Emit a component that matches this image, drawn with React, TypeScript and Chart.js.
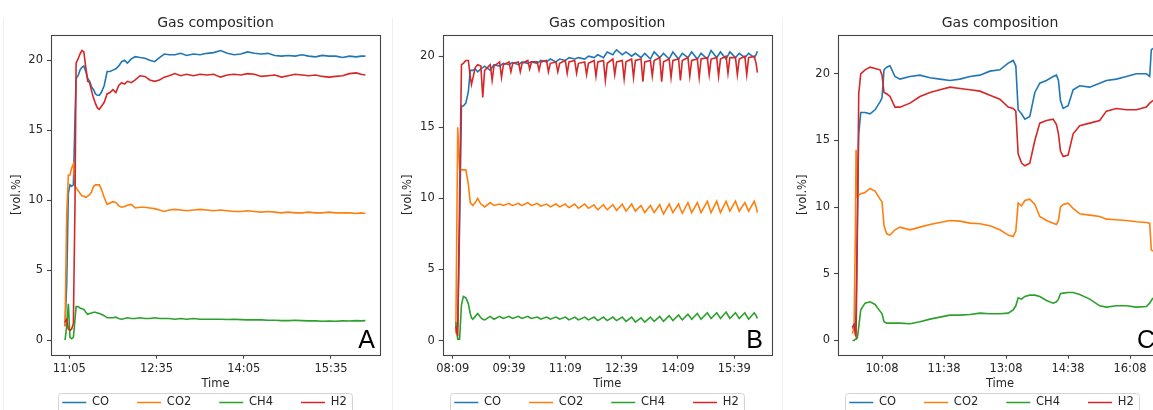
import React, { useEffect, useRef } from 'react';
import { Chart, registerables } from 'chart.js';

Chart.register(...registerables);

// ---------------- data ----------------
const SERIES = ['CO', 'CO2', 'CH4', 'H2'];
const COLORS = ['#1f77b4', '#ff7f0e', '#2ca02c', '#d62728'];
const Y_TICKS = [0, 5, 10, 15, 20];

// Panel A (time in minutes after midnight)
const A_TICK_LABELS = ['11:05', '12:35', '14:05', '15:35'];
const A_TIMES = [660.6, 662.3, 664, 665.7, 667.4, 669.2, 670.9, 672, 674, 676, 678, 680, 682, 684, 686, 688, 690, 692, 694, 696, 698, 701, 704, 707, 710, 713, 716, 719, 722, 725, 729, 733, 738, 743, 748, 753, 758, 763, 768, 774, 780, 786, 793, 800, 807, 814, 821, 828, 835, 842, 849, 856, 863, 870, 877, 884, 891, 898, 905, 912, 919, 926, 933, 940, 947, 954, 961, 966, 970.5];
const A_CO = [1.0, 4.0, 10.5, 11.1, 11.0, 11.1, 16.0, 18.7, 18.9, 19.3, 19.5, 19.6, 19.2, 18.7, 18.5, 18.1, 17.9, 17.6, 17.5, 17.5, 17.7, 18.2, 19.2, 19.2, 19.3, 19.4, 19.6, 19.9, 20.0, 19.8, 20.1, 20.26, 20.2, 20.15, 20.0, 19.9, 20.2, 20.45, 20.4, 20.4, 20.5, 20.35, 20.45, 20.4, 20.5, 20.55, 20.7, 20.5, 20.4, 20.45, 20.6, 20.5, 20.45, 20.5, 20.35, 20.3, 20.35, 20.3, 20.4, 20.3, 20.25, 20.35, 20.3, 20.3, 20.2, 20.3, 20.25, 20.3, 20.3];
const A_CO2 = [1.0, 9.0, 11.8, 11.8, 12.3, 12.6, 11.0, 10.9, 10.7, 10.5, 10.3, 10.3, 10.2, 10.3, 10.4, 10.6, 11.0, 11.1, 11.1, 11.1, 10.8, 10.2, 9.7, 9.8, 9.9, 9.85, 9.6, 9.5, 9.55, 9.65, 9.7, 9.45, 9.5, 9.5, 9.45, 9.4, 9.3, 9.2, 9.3, 9.35, 9.3, 9.25, 9.3, 9.35, 9.3, 9.25, 9.3, 9.25, 9.2, 9.2, 9.25, 9.2, 9.15, 9.2, 9.15, 9.1, 9.15, 9.1, 9.1, 9.15, 9.1, 9.1, 9.15, 9.1, 9.1, 9.1, 9.05, 9.1, 9.05];
const A_CH4 = [0.0, 1.0, 2.6, 0.2, 0.1, 0.2, 1.5, 2.4, 2.4, 2.3, 2.25, 2.2, 2.0, 1.85, 1.9, 1.95, 2.0, 2.0, 1.95, 1.9, 1.85, 1.75, 1.6, 1.6, 1.6, 1.65, 1.55, 1.5, 1.55, 1.6, 1.55, 1.55, 1.6, 1.55, 1.55, 1.6, 1.55, 1.55, 1.55, 1.5, 1.55, 1.5, 1.55, 1.5, 1.5, 1.5, 1.5, 1.48, 1.5, 1.47, 1.45, 1.45, 1.45, 1.42, 1.42, 1.4, 1.4, 1.42, 1.4, 1.38, 1.38, 1.35, 1.36, 1.35, 1.38, 1.37, 1.4, 1.38, 1.4];
const A_H2 = [1.3, 1.5, 0.8, 0.7, 0.8, 1.2, 10.0, 19.8, 20.1, 20.45, 20.7, 20.6, 19.5, 18.5, 18.4, 17.8, 17.3, 16.9, 16.6, 16.5, 16.7, 17.0, 17.6, 17.7, 17.9, 17.7, 18.2, 18.4, 18.3, 18.5, 18.4, 18.6, 18.9, 18.85, 18.6, 18.5, 18.6, 18.8, 18.9, 19.05, 18.9, 19.0, 18.9, 19.0, 18.95, 19.0, 18.8, 18.95, 19.0, 18.95, 19.05, 19.0, 18.85, 18.9, 18.95, 18.8, 18.9, 19.0, 18.95, 18.9, 18.95, 18.85, 18.8, 18.85, 18.9, 19.05, 19.1, 19.0, 18.95];

// Panel B
const B_TICK_LABELS = ['08:09', '09:39', '11:09', '12:39', '14:09', '15:39'];
const B_TIMES = [
  494, 497, 500, 503, 506, 510, 514, 517, 519, 521,
  525, 529, 534, 537, 540,
  549, 552, 555, 564, 567, 570, 579, 582, 585, 594, 597, 600, 609, 612, 615,
  624, 627, 630, 639, 642, 645, 654, 657, 660, 669, 672, 675, 684, 687, 690,
  700, 703, 706, 715, 718, 721, 730, 733, 736, 745, 748, 751, 760, 763, 766,
  775, 778, 781, 790, 793, 796, 805, 808, 811, 820, 823, 826, 835, 838, 841,
  850, 853, 856, 865, 868, 871, 880, 883, 886, 896, 899, 902, 911, 914, 917,
  926, 929, 932, 941, 944, 947, 956, 959, 962, 971, 974, 976,
];
const B_CO = [
  0.8, 1.0, 8.0, 16.5, 16.5, 16.7, 17.5, 19.0, 19.0, 19.0,
  19.1, 18.9, 19.1, 19.2, 19.3,
  19.0, 19.2, 19.4, 19.3, 19.4, 19.5, 19.4, 19.5, 19.55, 19.4, 19.5, 19.6, 19.5, 19.55, 19.6,
  19.5, 19.6, 19.7, 19.6, 19.7, 19.8, 19.6, 19.7, 19.8, 19.7, 19.8, 19.9, 19.8, 19.85, 19.9,
  19.8, 19.9, 20.0, 19.9, 20.0, 20.1, 19.9, 20.1, 20.3, 20.1, 20.3, 20.45, 20.1, 20.2, 20.3,
  20.0, 20.1, 20.2, 19.9, 20.05, 20.2, 19.8, 20.05, 20.3, 19.9, 20.05, 20.2, 19.8, 20.05, 20.3,
  19.8, 20.0, 20.2, 19.9, 20.1, 20.3, 19.8, 20.0, 20.2, 19.8, 20.1, 20.4, 19.9, 20.1, 20.3,
  19.8, 20.05, 20.3, 19.9, 20.05, 20.2, 19.9, 20.05, 20.2, 19.9, 20.1, 20.35,
];
const B_CO2 = [
  0.5, 15.0, 12.1, 12.0, 12.0, 12.0, 11.0, 9.7, 9.6, 9.5,
  9.7, 10.0, 9.6, 9.5, 9.4,
  9.7, 9.6, 9.5, 9.6, 9.55, 9.5, 9.65, 9.55, 9.5, 9.65, 9.55, 9.5, 9.7, 9.6, 9.5,
  9.65, 9.55, 9.45, 9.6, 9.5, 9.4, 9.6, 9.5, 9.4, 9.6, 9.45, 9.35, 9.6, 9.45, 9.3,
  9.6, 9.45, 9.3, 9.55, 9.35, 9.2, 9.55, 9.35, 9.2, 9.55, 9.35, 9.15, 9.6, 9.35, 9.1,
  9.6, 9.35, 9.1, 9.5, 9.25, 9.0, 9.5, 9.25, 9.0, 9.55, 9.2, 8.9, 9.6, 9.3, 9.0,
  9.6, 9.25, 8.95, 9.7, 9.35, 9.0, 9.7, 9.35, 9.0, 9.8, 9.4, 9.0, 9.8, 9.4, 9.0,
  9.8, 9.45, 9.1, 9.8, 9.45, 9.1, 9.7, 9.4, 9.1, 9.8, 9.4, 9.0,
];
const B_CH4 = [
  1.3, 0.1, 0.1, 2.5, 3.1, 3.0, 2.6, 1.9, 1.6, 1.5,
  1.7, 1.9, 1.6, 1.5, 1.45,
  1.7, 1.6, 1.5, 1.7, 1.62, 1.55, 1.7, 1.62, 1.55, 1.7, 1.62, 1.55, 1.7, 1.62, 1.55,
  1.65, 1.58, 1.5, 1.65, 1.58, 1.5, 1.65, 1.58, 1.5, 1.65, 1.55, 1.45, 1.65, 1.55, 1.45,
  1.65, 1.55, 1.45, 1.65, 1.52, 1.4, 1.65, 1.52, 1.4, 1.65, 1.52, 1.4, 1.65, 1.5, 1.35,
  1.65, 1.48, 1.3, 1.6, 1.45, 1.3, 1.65, 1.5, 1.35, 1.7, 1.52, 1.35, 1.75, 1.58, 1.4,
  1.8, 1.62, 1.45, 1.85, 1.68, 1.5, 1.9, 1.7, 1.5, 1.95, 1.75, 1.55, 1.95, 1.75, 1.55,
  2.0, 1.78, 1.55, 1.95, 1.75, 1.55, 1.95, 1.72, 1.5, 1.95, 1.75, 1.55,
];
const B_H2 = [
  1.0, 0.3, 10.0, 19.4, 19.5, 19.7, 19.7, 18.6, 18.0, 18.4,
  19.2, 19.4, 19.3, 17.1, 19.0,
  19.4, 18.3, 19.3, 19.6, 18.5, 19.4, 19.6, 18.9, 19.5, 19.6, 18.9, 19.5, 19.7, 19.1, 19.6,
  19.6, 19.0, 19.6, 19.7, 18.9, 19.5, 19.6, 18.9, 19.5, 19.7, 18.8, 19.6, 19.7, 18.8, 19.5,
  19.6, 18.7, 19.5, 19.7, 18.6, 19.6, 19.7, 18.3, 19.5, 19.8, 18.7, 19.6, 19.7, 18.4, 19.6,
  19.8, 18.5, 19.7, 19.8, 18.2, 19.6, 19.7, 18.6, 19.7, 19.9, 18.2, 19.6, 19.8, 18.5, 19.7,
  19.8, 18.3, 19.7, 19.9, 18.6, 19.7, 19.8, 18.5, 19.8, 19.9, 18.7, 19.8, 19.9, 18.6, 19.8,
  20.0, 18.8, 19.9, 19.9, 18.7, 19.8, 20.0, 18.7, 19.9, 20.0, 19.5, 18.85,
];

// Panel C
const C_TICK_LABELS = ['10:08', '11:38', '13:08', '14:38', '16:08'];
const C_TIMES = [565.0, 567.4, 569.3, 570.3, 572.2, 574.2, 577.1, 583.4, 590.6, 597.9, 605.1, 608.0, 610.9, 614.8, 619.6, 626.8, 634.1, 648.6, 663.1, 677.6, 692.1, 706.6, 721.1, 735.6, 750.1, 764.6, 779.1, 791.1, 798.4, 802.2, 805.6, 810.5, 815.3, 822.5, 829.8, 837.0, 846.7, 856.4, 861.2, 864.1, 867.0, 870.9, 878.1, 885.4, 895.0, 909.5, 924.0, 933.7, 948.2, 962.7, 977.2, 991.7, 996.5, 998.9, 1001.3];
const C_CO = [1.0, 0.8, 1.0, 2.0, 9.0, 15.5, 17.1, 17.1, 17.0, 17.3, 17.9, 18.2, 20.3, 20.5, 20.6, 19.8, 19.6, 19.8, 19.9, 19.7, 19.6, 19.5, 19.6, 19.8, 19.9, 20.2, 20.3, 20.8, 21.0, 20.6, 17.3, 17.0, 16.6, 16.8, 18.6, 19.3, 19.5, 19.8, 19.9, 19.5, 18.0, 17.4, 17.6, 18.8, 19.1, 19.0, 19.3, 19.5, 19.6, 19.8, 20.0, 20.0, 19.8, 21.8, 21.9];
const C_CO2 = [0.5, 1.0, 8.0, 14.3, 10.8, 10.9, 11.0, 11.1, 11.4, 11.2, 10.6, 10.4, 8.6, 8.0, 7.9, 8.3, 8.5, 8.3, 8.5, 8.7, 8.85, 9.0, 8.95, 8.8, 8.75, 8.6, 8.3, 7.9, 7.8, 8.2, 10.3, 10.1, 10.5, 10.6, 10.2, 9.3, 9.0, 8.8, 8.7, 9.0, 10.0, 10.2, 10.3, 9.9, 9.5, 9.4, 9.3, 9.1, 9.05, 9.0, 8.9, 8.85, 8.8, 6.8, 6.7];
const C_CH4 = [0.0, 0.0, 0.1, 0.1, 0.2, 1.0, 2.3, 2.8, 2.9, 2.7, 2.2, 2.0, 1.4, 1.3, 1.3, 1.3, 1.3, 1.25, 1.4, 1.6, 1.75, 1.9, 1.9, 1.95, 2.05, 2.0, 2.0, 2.05, 2.3, 2.6, 3.2, 3.1, 3.3, 3.4, 3.4, 3.3, 3.0, 2.8, 2.9, 3.1, 3.5, 3.55, 3.6, 3.6, 3.45, 3.1, 2.6, 2.5, 2.6, 2.6, 2.5, 2.55, 2.8, 3.0, 3.2];
const C_H2 = [1.0, 1.2, 0.4, 0.3, 8.0, 18.5, 20.0, 20.3, 20.5, 20.4, 20.3, 19.9, 18.6, 18.5, 18.3, 17.5, 17.5, 17.8, 18.3, 18.6, 18.8, 19.0, 18.9, 18.8, 18.7, 18.4, 18.1, 17.5, 17.4, 17.2, 14.0, 13.3, 13.1, 13.3, 15.0, 16.3, 16.5, 16.6, 16.2, 15.5, 14.2, 13.8, 13.9, 15.5, 16.1, 16.3, 16.5, 17.2, 17.4, 17.3, 17.3, 17.5, 17.8, 17.9, 18.0];

// ---------------- styling / layout ----------------
const FONT = '"DejaVu Sans", sans-serif';
const TEXT = '#262626';
const SPINE = '#444444';
const CANVAS_H = 443;
const X_AXIS_H = 38.9;
const LEGEND_TOP = 368.75;
const LEGEND_PAD = 28;

const toMin = (s: string) => {
  const [h, m] = s.split(':').map(Number);
  return h * 60 + m;
};

type Lay = {
  left: number; width: number; yAxisW: number; padRight: number;
  xMin: number; xMax: number; yMin: number; yMax: number;
  yTitlePad: number; legendCenter: number; letter: string; letterRight: number;
};

const PANELS = [
  {
    times: A_TIMES, series: [A_CO, A_CO2, A_CH4, A_H2], ticks: A_TICK_LABELS,
    lay: { left: 0, width: 390, yAxisW: 51, padRight: 10, xMin: 646.1, xMax: 985.6, yMin: -1.03, yMax: 21.81, yTitlePad: 10.1, legendCenter: 204.5, letter: 'A', letterRight: 375 } as Lay,
  },
  {
    times: B_TIMES, series: [B_CO, B_CO2, B_CH4, B_H2], ticks: B_TICK_LABELS,
    lay: { left: 390, width: 390, yAxisW: 52.7, padRight: 8.3, xMin: 473.0, xMax: 998.9, yMin: -0.99, yMax: 21.49, yTitlePad: 11.1, legendCenter: 206.5, letter: 'B', letterRight: 373 } as Lay,
  },
  {
    times: C_TIMES, series: [C_CO, C_CO2, C_CH4, C_H2], ticks: C_TICK_LABELS,
    lay: { left: 780, width: 390, yAxisW: 58, padRight: 8, xMin: 544.1, xMax: 1014.4, yMin: -1.06, yMax: 22.91, yTitlePad: 16.1, legendCenter: 211.5, letter: 'C', letterRight: 375 } as Lay,
  },
];

function makeConfig(p: any): any {
  const lay: Lay = p.lay;
  const tickFont = { family: FONT, size: 11.5 };
  const decor = {
    id: 'decor',
    afterLayout(chart: any) {
      const lg = chart.legend;
      if (!lg) return;
      const w = lg.width;
      const h = lg.height;
      lg.left = lay.legendCenter - w / 2;
      lg.right = lg.left + w;
      lg.top = LEGEND_TOP;
      lg.bottom = lg.top + h;
    },
    afterDraw(chart: any) {
      const { ctx, chartArea: a } = chart;
      ctx.save();
      // axes frame (spines)
      ctx.strokeStyle = SPINE;
      ctx.lineWidth = 1.1;
      ctx.strokeRect(Math.round(a.left) + 0.5, Math.round(a.top) + 0.5, Math.round(a.right - a.left), Math.round(a.bottom - a.top));
      // legend frame
      const lg = chart.legend;
      if (lg && lg.lineWidths) {
        const lw = lg.lineWidths[0];
        const x0 = (lg.left + LEGEND_PAD + lg.right - lw) / 2;
        const x1 = x0 + lw - LEGEND_PAD;
        const bx = Math.round(x0 - 4.5) + 0.5;
        const bw = Math.round(x1 - x0 + 10);
        const by = 393.5;
        const bh = 22;
        const r = 3;
        ctx.strokeStyle = '#d4d4d4';
        ctx.lineWidth = 1;
        ctx.beginPath();
        ctx.moveTo(bx + r, by);
        ctx.lineTo(bx + bw - r, by);
        ctx.arcTo(bx + bw, by, bx + bw, by + r, r);
        ctx.lineTo(bx + bw, by + bh);
        ctx.moveTo(bx, by + bh);
        ctx.lineTo(bx, by + r);
        ctx.arcTo(bx, by, bx + r, by, r);
        ctx.stroke();
      }
      // panel letter
      ctx.fillStyle = '#000';
      ctx.font = '25px "Liberation Sans", Arial, sans-serif';
      ctx.textAlign = 'right';
      ctx.textBaseline = 'alphabetic';
      ctx.fillText(lay.letter, lay.letterRight, 348);
      ctx.restore();
    },
  };

  return {
    type: 'line',
    data: {
      datasets: SERIES.map((name, k) => ({
        label: name,
        data: p.times.map((t: number, i: number) => ({ x: t, y: p.series[k][i] })),
        borderColor: COLORS[k],
        backgroundColor: COLORS[k],
        borderWidth: 1.6,
        pointRadius: 0,
        pointHoverRadius: 0,
        tension: 0,
        fill: false,
        order: SERIES.length - k,
      })),
    },
    options: {
      responsive: false,
      maintainAspectRatio: false,
      animation: false,
      devicePixelRatio: 1,
      events: [],
      layout: { padding: { left: 0, right: lay.padRight, top: 0, bottom: 0 } },
      scales: {
        x: {
          type: 'linear',
          min: lay.xMin,
          max: lay.xMax,
          afterBuildTicks: (s: any) => {
            s.ticks = p.ticks.map((l: string) => ({ value: toMin(l) }));
          },
          afterFit: (s: any) => {
            s.height = X_AXIS_H;
          },
          ticks: {
            autoSkip: false,
            maxRotation: 0,
            minRotation: 0,
            padding: 4,
            color: TEXT,
            font: tickFont,
            callback: (_v: any, i: number) => p.ticks[i],
          },
          grid: { drawOnChartArea: false, drawTicks: true, tickLength: 4, tickColor: SPINE, tickWidth: 1.1, color: SPINE },
          border: { display: false },
          title: { display: true, text: 'Time', color: TEXT, font: tickFont, padding: { top: 0, bottom: 2.3 } },
        },
        y: {
          type: 'linear',
          min: lay.yMin,
          max: lay.yMax,
          afterBuildTicks: (s: any) => {
            s.ticks = Y_TICKS.map((v) => ({ value: v }));
          },
          afterFit: (s: any) => {
            s.width = lay.yAxisW;
          },
          ticks: {
            padding: 4,
            color: TEXT,
            font: tickFont,
            callback: (v: any) => String(v),
          },
          grid: { drawOnChartArea: false, drawTicks: true, tickLength: 4, tickColor: SPINE, tickWidth: 1.1, color: SPINE },
          border: { display: false },
          title: { display: true, text: '[vol.%]', color: TEXT, font: tickFont, padding: { top: lay.yTitlePad, bottom: 0 } },
        },
      },
      plugins: {
        title: {
          display: true,
          text: 'Gas composition',
          fullSize: false,
          color: TEXT,
          font: { family: FONT, size: 14, weight: 'normal' },
          padding: { top: 14.9, bottom: 3.3 },
        },
        legend: {
          display: true,
          position: 'bottom',
          labels: {
            usePointStyle: true,
            pointStyle: 'line',
            pointStyleWidth: 24,
            padding: LEGEND_PAD,
            color: TEXT,
            font: { family: FONT, size: 11.5 },
            sort: (a: any, b: any) => a.datasetIndex - b.datasetIndex,
          },
        },
        tooltip: { enabled: false },
      },
    },
    plugins: [decor],
  };
}

function Panel({ p }: { p: any }) {
  const ref = useRef<HTMLCanvasElement | null>(null);
  useEffect(() => {
    if (!ref.current) return;
    const chart = new Chart(ref.current, makeConfig(p));
    return () => chart.destroy();
  }, [p]);
  const lay: Lay = p.lay;
  return (
    <canvas
      ref={ref}
      width={lay.width}
      height={CANVAS_H}
      style={{ position: 'absolute', left: lay.left, top: 0, width: lay.width, height: CANVAS_H }}
    />
  );
}

const SEPARATORS = [3, 392, 782];

export default function App() {
  return (
    <div
      style={{
        position: 'fixed',
        left: 0,
        top: 0,
        width: 1153,
        height: 410,
        overflow: 'hidden',
        background: '#ffffff',
      }}
    >
      {SEPARATORS.map((x) => (
        <div key={x} style={{ position: 'absolute', left: x, top: 18, width: 1, height: 392, background: '#f0f0f0' }} />
      ))}
      {PANELS.map((p, i) => (
        <Panel key={i} p={p} />
      ))}
    </div>
  );
}
